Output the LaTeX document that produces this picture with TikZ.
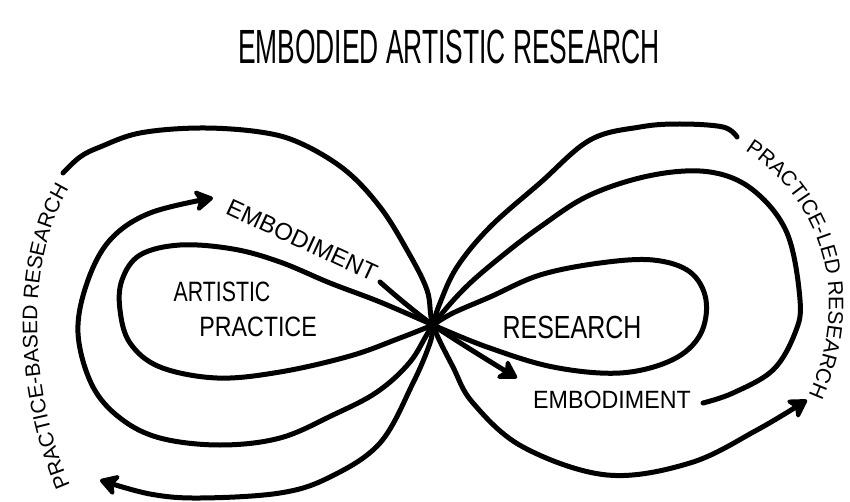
\documentclass[tikz,border=0pt]{standalone}
\usepackage{fontspec}
\setmainfont{Liberation Sans}
\newfontfamily\hand{Liberation Sans}
\usepackage{graphicx}
\usetikzlibrary{arrows.meta,decorations.text}
\begin{document}
\begin{tikzpicture}[x=1pt,y=-1pt,
  curve/.style={line width=5pt, line cap=round, line join=round, draw=black},
  tip/.style={-{Stealth[length=22pt,width=26pt,inset=6pt,round]}},
  lab/.style={inner sep=0pt, text=black, font=\hand},
]
\useasboundingbox[fill=white] (0,0) rectangle (850,502);
\coordinate (C) at (433,325);

% title
\node[lab] (title) at (449,47) {\scalebox{0.55}[1]{\fontsize{48}{48}\selectfont EMBODIED ARTISTIC RESEARCH}};

% inner left loop
\draw[curve] plot[smooth, tension=0.6] coordinates {(C) (380,302) (330,283) (280,262) (233,249) (180,245) (140,255) (122,280) (120,310) (130,343) (160,367) (217,378) (280,372) (350,356) (400,338) (C)};
% inner right loop
\draw[curve] plot[smooth, tension=0.6] coordinates {(C) (453,313) (490,297) (540,275) (600,263) (653,260) (690,272) (706,300) (700,335) (672,360) (620,373) (553,367) (487,347) (C)};

% middle curve: right embodiment -> right loop -> centre -> left loop -> arrow
\draw[curve, tip] plot[smooth, tension=0.6] coordinates {(703,403) (733,393) (773,370) (795,333) (800,300) (787,233) (753,190) (710,172) (653,175) (590,195) (540,227) (497,260) (463,290) (C) (410,362) (377,392) (333,415) (280,438) (220,445) (160,438) (120,418) (92,385) (78,333) (87,283) (110,240) (150,213) (213,198)};

% left embodiment line -> arrow
\draw[curve, tip] plot[smooth, tension=0.6] coordinates {(380,282) (C) (517,378)};

% outer curve from practice-based research
\draw[curve, tip] plot[smooth, tension=0.6] coordinates {(63,173) (80,157) (100,147) (140,133) (200,128) (260,132) (300,143) (345,170) (380,207) (407,250) (427,290) (C) (453,367) (473,403) (523,447) (607,475) (690,463) (757,430) (807,400)};

% outer curve from practice-led research
\draw[curve, tip] plot[smooth, tension=0.6] coordinates {(737,137) (723,127) (680,124) (640,127) (590,140) (540,183) (490,227) (457,267) (440,303) (C) (430,343) (413,383) (380,443) (330,477) (280,493) (200,498) (150,494) (100,480)};

% labels
\node[lab, rotate=-24.8] (embL) at (302,240) {\fontsize{24}{24}\selectfont EMBODIMENT};
\node[lab] (artistic) at (222,292) {\scalebox{0.76}[1]{\fontsize{28}{28}\selectfont ARTISTIC}};
\node[lab] (practice) at (258,327) {\scalebox{0.83}[1]{\fontsize{28}{28}\selectfont PRACTICE}};
\node[lab] (research) at (572,327) {\scalebox{0.78}[1]{\fontsize{32}{32}\selectfont RESEARCH}};
\node[lab] (embR) at (612,400) {\scalebox{0.93}[1]{\fontsize{25}{25}\selectfont EMBODIMENT}};

% curved labels
\path[decorate, decoration={text along path, text align=center,
  text={|\hand\fontsize{21}{21}\selectfont|PRACTICE-BASED RESEARCH}}]
  (74,494) .. controls (30,400) and (20,260) .. (74,181);
\path[decorate, decoration={text along path, text align=center,
  text={|\hand\fontsize{21}{21}\selectfont|PRACTICE-LED RESEARCH}}]
  (744,150) .. controls (816,195) and (856,290) .. (808,396);
\end{tikzpicture}
\end{document}
